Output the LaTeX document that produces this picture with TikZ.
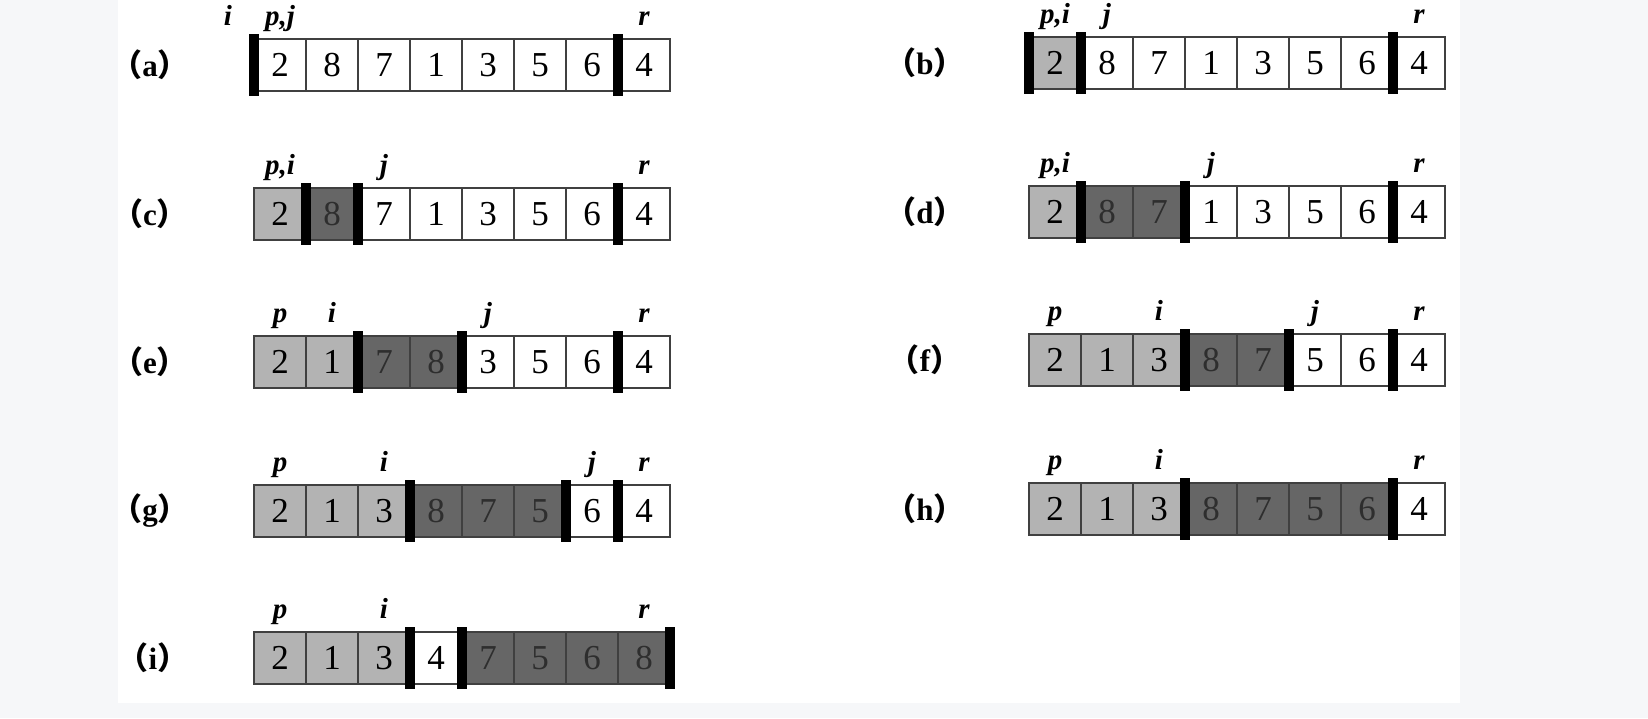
\documentclass[tikz,border=0pt]{standalone}
\usepackage{fontspec}
\setmainfont{Liberation Serif}
\newfontfamily\cjk{Noto Sans CJK SC}
\newcommand\tagtext[1]{{\cjk （}#1{\cjk ）}}
\definecolor{cL}{HTML}{B3B3B3}
\definecolor{cD}{HTML}{666666}
\definecolor{tD}{HTML}{2E2E2E}
\definecolor{bgout}{HTML}{F6F7F9}
\tikzset{
 cell/.style={draw=black!75, line width=0.6pt, minimum width=26pt, minimum height=26pt,
   inner sep=0pt, outer sep=0pt, font=\fontsize{17.5}{20}\selectfont},
 bar/.style={line width=5pt, black, shorten <=-2.5pt, shorten >=-2.5pt},
 ptr/.style={font=\fontsize{14.5}{16}\selectfont\bfseries\itshape, anchor=base, inner sep=0pt},
 tag/.style={font=\fontsize{15.5}{18}\selectfont\bfseries, inner sep=0pt},
}
\newcommand\arow[4]{%
  \foreach \v/\f/\t [count=\k] in {#4} {
    \node[cell, fill=\f, text=\t] (#1\k) at ({#2+(\k-0.5)*52}, #3) {\v};
  }%
}
\begin{document}
\begin{tikzpicture}[x=0.5pt,y=-0.5pt]
\useasboundingbox (0,0) rectangle (1648,718);
\fill[bgout] (0,0) rectangle (1648,718);
\fill[white] (118,0) rectangle (1460,703);

% (a)
\node[tag] (ta) at (150,65) {\tagtext{a}};
\arow{a}{254}{65}{2/white/black,8/white/black,7/white/black,1/white/black,3/white/black,5/white/black,6/white/black,4/white/black}
\draw[bar] (a1.north west) -- (a1.south west);
\draw[bar] (a8.north west) -- (a8.south west);
\node[ptr] (la-i) at ([xshift=-26pt,yshift=7pt]a1.north) {i};
\node[ptr] (la-pj) at ([yshift=7pt]a1.north) {p,j};
\node[ptr] (la-r) at ([yshift=7pt]a8.north) {r};

% (b)
\node[tag] (tb) at (925,63) {\tagtext{b}};
\arow{b}{1029}{63}{2/cL/black,8/white/black,7/white/black,1/white/black,3/white/black,5/white/black,6/white/black,4/white/black}
\draw[bar] (b1.north west) -- (b1.south west);
\draw[bar] (b2.north west) -- (b2.south west);
\draw[bar] (b8.north west) -- (b8.south west);
\node[ptr] (lb-pi) at ([yshift=7pt]b1.north) {p,i};
\node[ptr] (lb-j) at ([yshift=7pt]b2.north) {j};
\node[ptr] (lb-r) at ([yshift=7pt]b8.north) {r};

% (c)
\node[tag] (tc) at (150,214) {\tagtext{c}};
\arow{c}{254}{214}{2/cL/black,8/cD/tD,7/white/black,1/white/black,3/white/black,5/white/black,6/white/black,4/white/black}
\draw[bar] (c2.north west) -- (c2.south west);
\draw[bar] (c3.north west) -- (c3.south west);
\draw[bar] (c8.north west) -- (c8.south west);
\node[ptr] (lc-pi) at ([yshift=7pt]c1.north) {p,i};
\node[ptr] (lc-j) at ([yshift=7pt]c3.north) {j};
\node[ptr] (lc-r) at ([yshift=7pt]c8.north) {r};

% (d)
\node[tag] (td) at (925,212) {\tagtext{d}};
\arow{d}{1029}{212}{2/cL/black,8/cD/tD,7/cD/tD,1/white/black,3/white/black,5/white/black,6/white/black,4/white/black}
\draw[bar] (d2.north west) -- (d2.south west);
\draw[bar] (d4.north west) -- (d4.south west);
\draw[bar] (d8.north west) -- (d8.south west);
\node[ptr] (ld-pi) at ([yshift=7pt]d1.north) {p,i};
\node[ptr] (ld-j) at ([yshift=7pt]d4.north) {j};
\node[ptr] (ld-r) at ([yshift=7pt]d8.north) {r};

% (e)
\node[tag] (te) at (150,362) {\tagtext{e}};
\arow{e}{254}{362}{2/cL/black,1/cL/black,7/cD/tD,8/cD/tD,3/white/black,5/white/black,6/white/black,4/white/black}
\draw[bar] (e3.north west) -- (e3.south west);
\draw[bar] (e5.north west) -- (e5.south west);
\draw[bar] (e8.north west) -- (e8.south west);
\node[ptr] (le-p) at ([yshift=7pt]e1.north) {p};
\node[ptr] (le-i) at ([yshift=7pt]e2.north) {i};
\node[ptr] (le-j) at ([yshift=7pt]e5.north) {j};
\node[ptr] (le-r) at ([yshift=7pt]e8.north) {r};

% (f)
\node[tag] (tf) at (925,360) {\tagtext{f}};
\arow{f}{1029}{360}{2/cL/black,1/cL/black,3/cL/black,8/cD/tD,7/cD/tD,5/white/black,6/white/black,4/white/black}
\draw[bar] (f4.north west) -- (f4.south west);
\draw[bar] (f6.north west) -- (f6.south west);
\draw[bar] (f8.north west) -- (f8.south west);
\node[ptr] (lf-p) at ([yshift=7pt]f1.north) {p};
\node[ptr] (lf-i) at ([yshift=7pt]f3.north) {i};
\node[ptr] (lf-j) at ([yshift=7pt]f6.north) {j};
\node[ptr] (lf-r) at ([yshift=7pt]f8.north) {r};

% (g)
\node[tag] (tg) at (150,511) {\tagtext{g}};
\arow{g}{254}{511}{2/cL/black,1/cL/black,3/cL/black,8/cD/tD,7/cD/tD,5/cD/tD,6/white/black,4/white/black}
\draw[bar] (g4.north west) -- (g4.south west);
\draw[bar] (g7.north west) -- (g7.south west);
\draw[bar] (g8.north west) -- (g8.south west);
\node[ptr] (lg-p) at ([yshift=7pt]g1.north) {p};
\node[ptr] (lg-i) at ([yshift=7pt]g3.north) {i};
\node[ptr] (lg-j) at ([yshift=7pt]g7.north) {j};
\node[ptr] (lg-r) at ([yshift=7pt]g8.north) {r};

% (h)
\node[tag] (th) at (925,509) {\tagtext{h}};
\arow{h}{1029}{509}{2/cL/black,1/cL/black,3/cL/black,8/cD/tD,7/cD/tD,5/cD/tD,6/cD/tD,4/white/black}
\draw[bar] (h4.north west) -- (h4.south west);
\draw[bar] (h8.north west) -- (h8.south west);
\node[ptr] (lh-p) at ([yshift=7pt]h1.north) {p};
\node[ptr] (lh-i) at ([yshift=7pt]h3.north) {i};
\node[ptr] (lh-r) at ([yshift=7pt]h8.north) {r};

% (i)
\node[tag] (ti) at (153,658) {\tagtext{i}};
\arow{i}{254}{658}{2/cL/black,1/cL/black,3/cL/black,4/white/black,7/cD/tD,5/cD/tD,6/cD/tD,8/cD/tD}
\draw[bar] (i4.north west) -- (i4.south west);
\draw[bar] (i5.north west) -- (i5.south west);
\draw[bar] (i8.north east) -- (i8.south east);
\node[ptr] (li-p) at ([yshift=7pt]i1.north) {p};
\node[ptr] (li-i) at ([yshift=7pt]i3.north) {i};
\node[ptr] (li-r) at ([yshift=7pt]i8.north) {r};
\end{tikzpicture}
\end{document}
